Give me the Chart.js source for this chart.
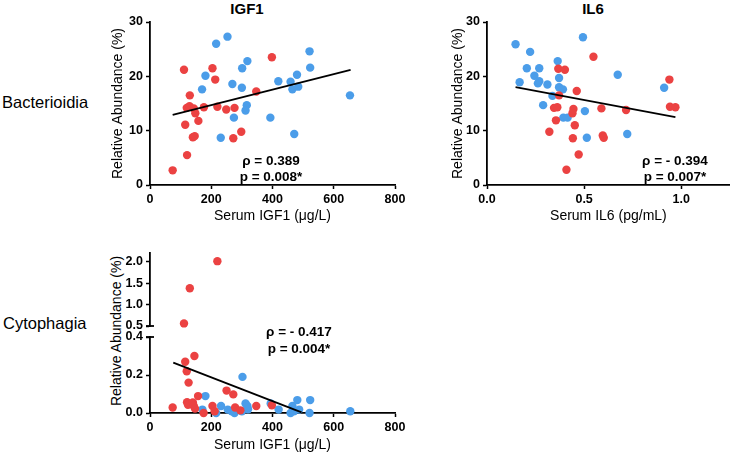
<!DOCTYPE html>
<html>
<head>
<meta charset="utf-8">
<script src="https://cdn.jsdelivr.net/npm/chart.js@4.4.1/dist/chart.umd.min.js"></script>
<style>
  html, body { margin: 0; padding: 0; background: #fff; }
  #fig { position: relative; width: 734px; height: 455px; overflow: hidden;
         font-family: Arial, "Liberation Sans", sans-serif; color: #000; }
  canvas { position: absolute; }
  .lbl { position: absolute; white-space: nowrap; line-height: 1; transform: translate(-50%, -50%); }
  .row { position: absolute; white-space: nowrap; line-height: 1; font-size: 16.5px; transform: translateY(-50%); }
  .ttl { font-weight: bold; font-size: 15px; }
  .stat { font-weight: bold; font-size: 13.5px; }
  .ytitle { font-size: 14px; transform: translate(-50%, -50%) rotate(-90deg); }
</style>
</head>
<body>
<div id="fig">
  <div class="lbl ttl" style="left:247px; top:8px;">IGF1</div>
  <div class="lbl ttl" style="left:593px; top:8px;">IL6</div>
  <div class="row" style="left:2px; top:102px;">Bacterioidia</div>
  <div class="row" style="left:3px; top:323px;">Cytophagia</div>
  <div class="lbl ytitle" style="left:115.5px; top:331px;">Relative Abundance (%)</div>

  <canvas id="igf1Chart" width="300" height="225" style="left:110px; top:0px;"></canvas>
  <canvas id="il6Chart" width="284" height="225" style="left:450px; top:0px;"></canvas>
  <canvas id="cytoTop" width="300" height="96" style="left:110px; top:241px;"></canvas>
  <canvas id="cytoBottom" width="300" height="128" style="left:110px; top:326px;"></canvas>

  <div class="lbl stat" style="left:271px; top:161px;">ρ = 0.389</div>
  <div class="lbl stat" style="left:271px; top:177px;">p = 0.008*</div>
  <div class="lbl stat" style="left:675px; top:161px;">ρ = - 0.394</div>
  <div class="lbl stat" style="left:675px; top:177px;">p = 0.007*</div>
  <div class="lbl stat" style="left:299px; top:332px;">ρ = - 0.417</div>
  <div class="lbl stat" style="left:299px; top:349px;">p = 0.004*</div>
</div>
<script>
// Bacterioidia vs serum IGF1
const igf1RedX = [74, 121, 115, 111, 130, 120, 129, 143, 148, 158, 140, 146, 176, 204, 213, 220, 249, 276, 272, 298, 347, 398];
const igf1RedY = [2.7, 5.5, 11.1, 21.2, 16.5, 14.2, 14.5, 14.1, 13.2, 11.8, 8.8, 9.0, 14.3, 21.5, 19.4, 14.4, 13.9, 14.2, 8.6, 9.8, 17.2, 23.5];
const igf1BlueX = [216, 253, 181, 170, 231, 269, 274, 300, 301, 318, 316, 312, 393, 419, 459, 480, 465, 484, 471, 521, 523, 653];
const igf1BlueY = [26.0, 27.3, 20.1, 17.6, 8.7, 18.6, 12.4, 17.9, 21.5, 22.8, 14.7, 13.7, 12.4, 19.1, 19.0, 20.3, 17.6, 18.1, 9.4, 24.6, 21.6, 16.5];
const igf1FitX = [74, 655];
const igf1FitY = [12.9, 21.2];

// Bacterioidia vs serum IL6
const il6RedX = [0.548, 0.367, 0.401, 0.462, 0.371, 0.345, 0.362, 0.445, 0.440, 0.355, 0.452, 0.321, 0.442, 0.472, 0.409, 0.589, 0.596, 0.601, 0.716, 0.939, 0.942, 0.970];
const il6RedY = [23.6, 21.4, 21.2, 17.3, 16.5, 14.2, 14.3, 14.0, 13.2, 11.9, 11.0, 9.8, 8.6, 5.6, 2.8, 14.1, 9.1, 8.7, 13.8, 19.4, 14.4, 14.3];
const il6BlueX = [0.147, 0.222, 0.205, 0.269, 0.168, 0.244, 0.269, 0.262, 0.311, 0.364, 0.371, 0.371, 0.391, 0.337, 0.289, 0.393, 0.415, 0.494, 0.504, 0.514, 0.673, 0.722, 0.912];
const il6BlueY = [25.9, 24.5, 21.5, 21.5, 18.9, 20.1, 19.1, 18.7, 18.5, 22.8, 19.7, 18.0, 17.6, 16.4, 14.7, 12.4, 12.4, 27.2, 13.6, 8.7, 20.3, 9.4, 17.9];
const il6FitX = [0.147, 0.970];
const il6FitY = [18.0, 12.5];

// Cytophagia vs serum IGF1 (broken y axis)
const cytoRedX = [74, 115, 120, 126, 145, 121, 124, 140, 143, 147, 157, 175, 204, 211, 250, 272, 278, 295, 347, 398, 220, 130, 111];
const cytoRedY = [0.029, 0.27, 0.22, 0.16, 0.30, 0.057, 0.043, 0.055, 0.037, 0.023, 0.089, 0.0, 0.037, 0.009, 0.118, 0.098, 0.029, 0.014, 0.037, 0.041, 2.01, 1.38, 0.56];
const cytoBlueX = [171, 181, 216, 232, 254, 267, 276, 302, 300, 312, 318, 320, 394, 420, 459, 465, 470, 481, 487, 521, 523, 654];
const cytoBlueY = [0.018, 0.089, 0.0, 0.037, 0.018, 0.009, 0.0, 0.19, 0.009, 0.05, 0.037, 0.02, 0.05, 0.018, 0.0, 0.037, 0.009, 0.068, 0.018, 0.0, 0.068, 0.009];
const cytoFitX = [76, 495];
const cytoFitY = [0.265, 0.003];
const cytoBreak = 0.45; // values above go on the upper segment

const RED = '#eb4242';
const BLUE = '#4b9de9';

Chart.defaults.font.family = 'Arial, "Liberation Sans", sans-serif';
Chart.defaults.color = '#000';
Chart.defaults.animation = false;

function pts(xs, ys, keep) {
    return xs.map((x, i) => ({ x: x, y: ys[i] })).filter(p => !keep || keep(p.y));
}

function axis(min, max, step, decimals, width, title) {
    return {
        type: 'linear',
        min: min,
        max: max,
        ticks: {
            stepSize: step,
            includeBounds: false,
            padding: 3,
            color: '#000',
            font: { size: 12.5, weight: 700 },
            callback: v => decimals ? Number(v).toFixed(decimals) : v
        },
        grid: { display: true, drawOnChartArea: false, drawTicks: true, tickLength: 4, tickWidth: 1.5, color: '#000', tickColor: '#000' },
        border: { display: true, color: '#000', width: 1.8 },
        title: title ? { display: true, text: title.text, padding: 0, color: '#000', font: { size: title.size, weight: 'normal' } } : { display: false },
        afterFit: s => { if (s.isHorizontal()) s.height = width; else s.width = width; }
    };
}

function datasets(fit, red, blue) {
    const list = [];
    if (fit) list.push({ data: fit, showLine: true, borderColor: '#000', borderWidth: 1.8, pointRadius: 0, clip: false });
    list.push({ data: red, backgroundColor: RED, borderColor: RED, borderWidth: 0, pointRadius: 4.2, clip: false });
    list.push({ data: blue, backgroundColor: BLUE, borderColor: BLUE, borderWidth: 0, pointRadius: 4.2, clip: false });
    return list;
}

// small cap drawn across the y axis where it is broken
function breakCap(edge) {
    return {
        id: 'breakCap',
        afterDraw(chart) {
            const { ctx, chartArea } = chart;
            const y = edge === 'top' ? chartArea.top : chartArea.bottom;
            ctx.save();
            ctx.strokeStyle = '#000';
            ctx.lineWidth = 1.8;
            ctx.beginPath();
            ctx.moveTo(chartArea.left - 4, y);
            ctx.lineTo(chartArea.left + 4, y);
            ctx.stroke();
            ctx.restore();
        }
    };
}

function makeChart(id, sets, xScale, yScale, padding, plugins) {
    return new Chart(document.getElementById(id), {
        type: 'scatter',
        data: { datasets: sets },
        options: {
            responsive: false,
            devicePixelRatio: 1,
            layout: { padding: padding },
            plugins: { legend: { display: false }, tooltip: { enabled: false } },
            scales: { x: xScale, y: yScale }
        },
        plugins: plugins || []
    });
}

const yTitle = { text: 'Relative Abundance (%)', size: 14 };

makeChart('igf1Chart',
    datasets(pts(igf1FitX, igf1FitY), pts(igf1RedX, igf1RedY), pts(igf1BlueX, igf1BlueY)),
    axis(0, 800, 200, 0, 40, { text: 'Serum IGF1 (μg/L)', size: 14 }),
    axis(0, 30, 10, 0, 40, yTitle),
    { top: 22, right: 15, bottom: 0, left: 0 });

makeChart('il6Chart',
    datasets(pts(il6FitX, il6FitY), pts(il6RedX, il6RedY), pts(il6BlueX, il6BlueY)),
    axis(0, 1.25, 0.5, 1, 40, { text: 'Serum IL6 (pg/mL)', size: 14 }),
    axis(0, 30, 10, 0, 37, yTitle),
    { top: 22, right: 1, bottom: 0, left: 0 });

const upperX = axis(0, 800, 200, 0, 0, null);
upperX.display = false;
makeChart('cytoTop',
    datasets(null, pts(cytoRedX, cytoRedY, y => y > cytoBreak), pts(cytoBlueX, cytoBlueY, y => y > cytoBreak)),
    upperX,
    axis(0.5, 2.2, 0.5, 1, 40, null),
    { top: 12, right: 15, bottom: 11, left: 0 },
    [breakCap('bottom')]);

makeChart('cytoBottom',
    datasets(pts(cytoFitX, cytoFitY), pts(cytoRedX, cytoRedY, y => y <= cytoBreak), pts(cytoBlueX, cytoBlueY, y => y <= cytoBreak)),
    axis(0, 800, 200, 0, 41, { text: 'Serum IGF1 (μg/L)', size: 14 }),
    axis(0, 0.4, 0.2, 1, 40, null),
    { top: 11, right: 15, bottom: 0, left: 0 },
    [breakCap('top')]);
</script>
</body>
</html>
